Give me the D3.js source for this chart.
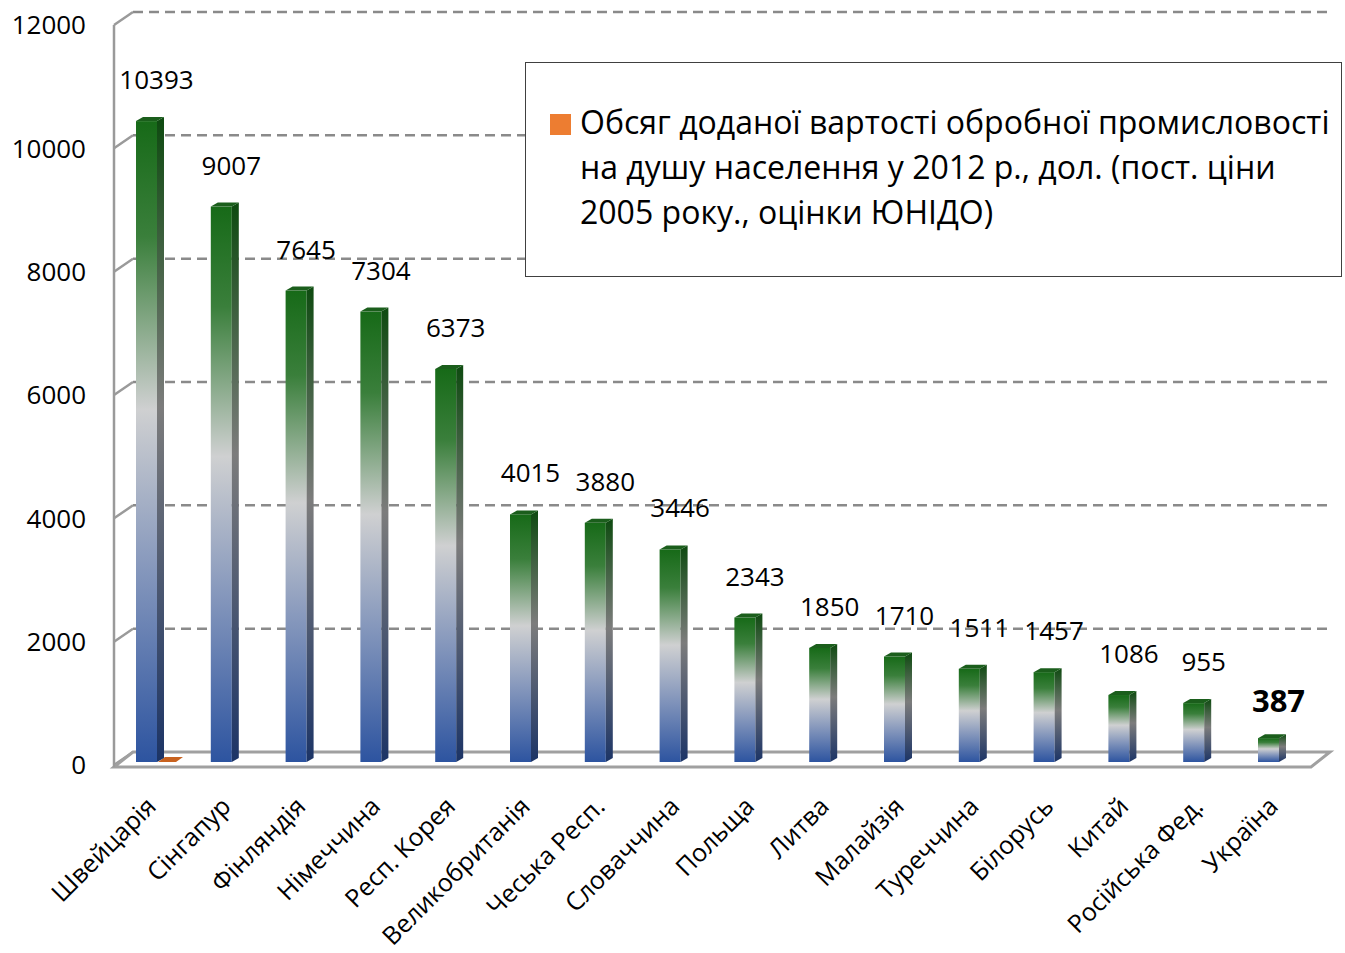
<!DOCTYPE html>
<html>
<head>
<meta charset="utf-8">
<script src="https://cdn.jsdelivr.net/npm/d3@7"></script>
<style>
  html, body { margin: 0; padding: 0; background: #fff; }
  svg { display: block; font-family: 'Open Sans', 'Noto Sans', 'DejaVu Sans', sans-serif; }
</style>
</head>
<body>
<svg id="chart"></svg>
<script>
const categories = ['Швейцарія', 'Сінгапур', 'Фінляндія', 'Німеччина', 'Респ. Корея',
  'Великобританія', 'Чеська Респ.', 'Словаччина', 'Польща', 'Литва', 'Малайзія',
  'Туреччина', 'Білорусь', 'Китай', 'Російська Фед.', 'Україна'];
const values = [10393, 9007, 7645, 7304, 6373, 4015, 3880, 3446, 2343, 1850, 1710,
  1511, 1457, 1086, 955, 387];
// second series (the one in the legend) - only first category has a (zero) value
const legendSeries = [0, null, null, null, null, null, null, null, null, null, null,
  null, null, null, null, null];
const yTicks = [0, 2000, 4000, 6000, 8000, 10000, 12000];
const legendLines = ['Обсяг доданої вартості обробної промисловості',
  'на душу населення у 2012 р., дол. (пост. ціни',
  '2005 року., оцінки ЮНІДО)'];
const highlight = 'Україна';

const W = 1345, H = 953;
const depthX = 19, depthY = 13; // 3d wall offset
const barDx = 7, barDy = 4;     // bar side depth

const svg = d3.select('#chart').attr('width', W).attr('height', H);

const x = d3.scaleBand().domain(categories).range([109.1, 1305.9]).padding(0);
const yFront = d3.scaleLinear().domain([0, 12000]).range([765, 25]);
const yBack = v => yFront(v) - depthY;
const yBar = v => yFront(v) - 3;
const barW = 21;
const cx = c => x(c) + x.bandwidth() / 2;

// gradients
const defs = svg.append('defs');
function grad(id, stops) {
  const g = defs.append('linearGradient').attr('id', id).
    attr('x1', 0).attr('y1', 0).attr('x2', 0).attr('y2', 1);
  stops.forEach(s => g.append('stop').attr('offset', s[0]).attr('stop-color', s[1]));
}
grad('frontGrad', [[0, '#176a18'], [0.18, '#3a7f3b'], [0.45, '#cfd0d1'], [0.7, '#8597bc'], [1, '#2d54a0']]);
grad('sideGrad', [[0, '#0e4a10'], [0.45, '#7c7c7c'], [1, '#1c3466']]);

const x0 = 114, x1 = 1311;

// gridlines on the back wall + small diagonals on the side wall
const grid = svg.append('g');
grid.selectAll('line.grid').
  data(yTicks.filter(d => d > 0)).
  enter().
  append('line').
  attr('x1', x0 + depthX).attr('x2', x1 + depthX).
  attr('y1', d => yBack(d)).attr('y2', d => yBack(d)).
  attr('stroke', '#8a8a8a').attr('stroke-width', 2.5).
  attr('stroke-dasharray', '10,6');
grid.selectAll('line.diag').
  data(yTicks).
  enter().
  append('line').
  attr('x1', x0).attr('y1', d => yFront(d)).
  attr('x2', x0 + depthX).attr('y2', d => yBack(d)).
  attr('stroke', '#9a9a9a').attr('stroke-width', 2.5);

// floor
svg.append('path').
  attr('d', `M${x0},${yFront(0) + 2}L${x1},${yFront(0) + 2}L${x1 + depthX},${yBack(0)}L${x0 + depthX},${yBack(0)}Z`).
  attr('fill', 'none').attr('stroke', '#a0a0a0').attr('stroke-width', 3);

// front axis
svg.append('line').
  attr('x1', x0).attr('x2', x0).
  attr('y1', yFront(12000)).attr('y2', yFront(0) + 2).
  attr('stroke', '#9a9a9a').attr('stroke-width', 2.5);

// y tick labels
svg.selectAll('text.ytick').
  data(yTicks).
  enter().
  append('text').
  attr('x', 86).attr('y', d => yFront(d)).
  attr('dy', '0.36em').
  attr('text-anchor', 'end').
  style('font-size', '26px').
  style('fill', '#000').
  text(d => d);

// legend-series flat bar
svg.selectAll('path.s2').
  data(categories.map((c, i) => ({ c, v: legendSeries[i] })).filter(d => d.v != null)).
  enter().
  append('path').
  attr('d', d => {
    const l = cx(d.c) + barW / 2 + 1, b = yBar(d.v);
    return `M${l},${b}L${l + 18},${b}L${l + 25},${b - 5}L${l + 7},${b - 5}Z`;
  }).
  attr('fill', '#c8621f');

// bars
const bars = svg.selectAll('g.bar').
  data(categories.map((c, i) => ({ c, v: values[i] }))).
  enter().
  append('g');

bars.append('rect').
  attr('x', d => cx(d.c) - barW / 2).
  attr('y', d => yBar(d.v)).
  attr('width', barW).
  attr('height', d => yBar(0) - yBar(d.v)).
  attr('fill', 'url(#frontGrad)');

bars.append('path').
  attr('d', d => {
    const r = cx(d.c) + barW / 2, t = yBar(d.v), b = yBar(0);
    return `M${r},${t}L${r + barDx},${t - barDy}L${r + barDx},${b - barDy}L${r},${b}Z`;
  }).
  attr('fill', 'url(#sideGrad)');

bars.append('path').
  attr('d', d => {
    const l = cx(d.c) - barW / 2, r = l + barW, t = yBar(d.v);
    return `M${l},${t}L${l + barDx},${t - barDy}L${r + barDx},${t - barDy}L${r},${t}Z`;
  }).
  attr('fill', '#1b5e1c');

// value labels
bars.append('text').
  attr('x', d => cx(d.c) + 10).
  attr('y', d => yBar(d.v) - (d.c === highlight ? 26 : 32)).
  attr('text-anchor', 'middle').
  style('font-size', d => d.c === highlight ? '31px' : '26px').
  style('font-weight', d => d.c === highlight ? 'bold' : 'normal').
  style('fill', '#000').
  text(d => d.v);

// category labels
svg.selectAll('text.cat').
  data(categories).
  enter().
  append('text').
  attr('transform', d => `translate(${cx(d) + 11},${808}) rotate(-45)`).
  attr('text-anchor', 'end').
  style('font-size', '25px').
  style('fill', '#000').
  text(d => d);

// legend
const lg = svg.append('g');
lg.append('rect').
  attr('x', 525.5).attr('y', 62.5).attr('width', 816).attr('height', 214).
  attr('fill', '#fff').attr('stroke', '#404040').attr('stroke-width', 1);
lg.append('rect').
  attr('x', 550).attr('y', 114).attr('width', 21).attr('height', 21).
  attr('fill', '#ed7d31');
const lt = lg.selectAll('text').
  data(legendLines).
  enter().
  append('text').
  attr('x', 580).
  attr('y', (d, i) => 134 + i * 45).
  style('font-size', '28px').
  style('fill', '#000').
  text(d => d);
// fit first line to the box width
const w0 = lt.node().getComputedTextLength();
const fs = 28 * 750 / w0;
lt.style('font-size', fs + 'px');
</script>
</body>
</html>
